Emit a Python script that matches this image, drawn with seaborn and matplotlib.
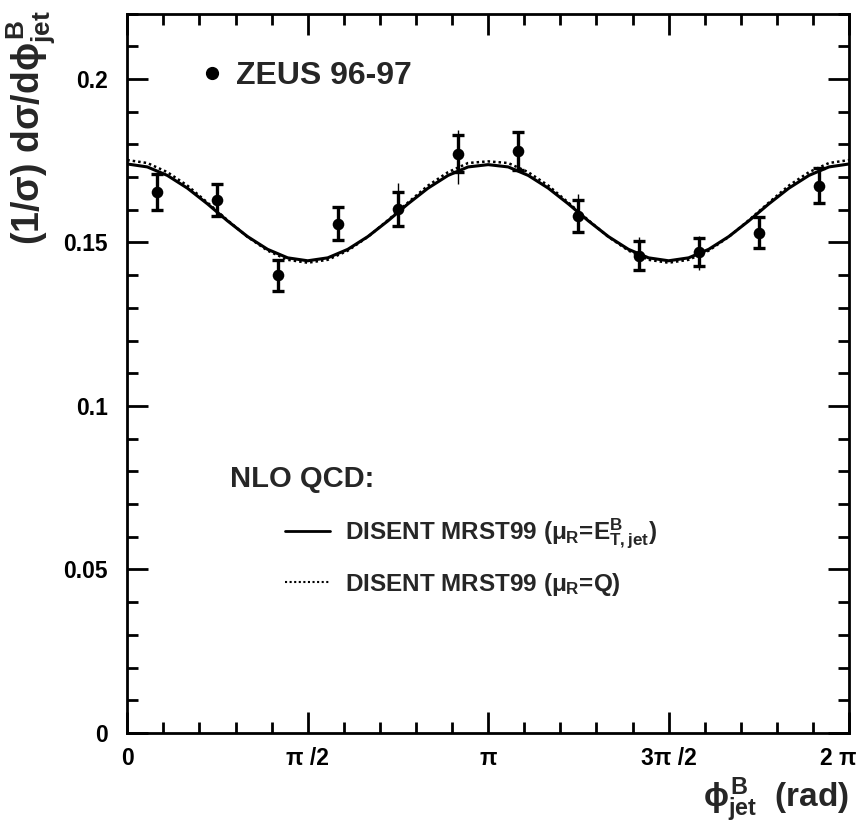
import numpy as np
import pandas as pd
import matplotlib
matplotlib.use("Agg")
import matplotlib.pyplot as plt
import matplotlib.transforms as mtransforms
from matplotlib.ticker import MultipleLocator, FixedLocator
import seaborn as sns

# ---------------- data ----------------
bin_center_deg = [15, 45, 75, 105, 135, 165, 195, 225, 255, 285, 315, 345]
zeus_value = [0.1655, 0.1630, 0.1399, 0.1557, 0.1602, 0.1772,
              0.1780, 0.1581, 0.1459, 0.1470, 0.1530, 0.1674]
zeus_stat = [0.0055, 0.0050, 0.0048, 0.0050, 0.0053, 0.0057,
             0.0058, 0.0050, 0.0044, 0.0043, 0.0048, 0.0053]
zeus_tot_up = [0.0055, 0.0050, 0.0048, 0.0050, 0.0079, 0.0071,
               0.0058, 0.0067, 0.0057, 0.0050, 0.0048, 0.0053]
zeus_tot_dn = [0.0055, 0.0050, 0.0048, 0.0050, 0.0053, 0.0093,
               0.0058, 0.0050, 0.0044, 0.0053, 0.0048, 0.0053]

curve_deg = [0, 10, 20, 30, 40, 50, 60, 70, 80, 90, 100, 110, 120, 130, 140,
             150, 160, 170, 180, 190, 200, 210, 220, 230, 240, 250, 260, 270,
             280, 290, 300, 310, 320, 330, 340, 350, 360]
nlo_et = [0.1740, 0.1731, 0.1705, 0.1666, 0.1618, 0.1566, 0.1518, 0.1479, 0.1453,
          0.1444, 0.1453, 0.1479, 0.1518, 0.1566, 0.1618, 0.1666, 0.1705, 0.1731,
          0.1738, 0.1731, 0.1705, 0.1666, 0.1618, 0.1566, 0.1518, 0.1479, 0.1453,
          0.1444, 0.1453, 0.1479, 0.1518, 0.1566, 0.1618, 0.1666, 0.1705, 0.1731,
          0.1740]
nlo_q = [0.1752, 0.1743, 0.1715, 0.1674, 0.1622, 0.1568, 0.1517, 0.1475, 0.1447,
         0.1438, 0.1447, 0.1475, 0.1517, 0.1568, 0.1622, 0.1674, 0.1715, 0.1743,
         0.1748, 0.1743, 0.1715, 0.1674, 0.1622, 0.1568, 0.1517, 0.1475, 0.1447,
         0.1438, 0.1447, 0.1475, 0.1517, 0.1568, 0.1622, 0.1674, 0.1715, 0.1743,
         0.1752]

xtick_labels = ["0", "π /2", "π", "3π /2", "2 π"]
ytick_labels = ["0", "0.05", "0.1", "0.15", "0.2"]

label_et = r"DISENT MRST99 ($\mu_{\mathrm{R}}$=E$^{\mathrm{B}}_{\mathrm{T,jet}}$)"
label_q = r"DISENT MRST99 ($\mu_{\mathrm{R}}$=Q)"

# ---------------- style ----------------
sns.set_theme(style="ticks")
plt.rcParams["font.family"] = ["Liberation Sans", "DejaVu Sans"]
plt.rcParams["font.weight"] = "bold"
plt.rcParams["mathtext.fontset"] = "custom"
plt.rcParams["mathtext.rm"] = "Liberation Sans:bold"
plt.rcParams["mathtext.it"] = "Liberation Sans:bold"
plt.rcParams["mathtext.bf"] = "Liberation Sans:bold"
plt.rcParams["mathtext.sf"] = "Liberation Sans:bold"

fig = plt.figure(figsize=(8.57, 8.27), dpi=100)
ax = fig.add_axes([0.1485, 0.1137, 0.9907 - 0.1485, 0.9836 - 0.1137])

pts = pd.DataFrame({
    "phi": np.deg2rad(bin_center_deg),
    "val": zeus_value,
    "stat": zeus_stat,
    "up": zeus_tot_up,
    "dn": zeus_tot_dn,
})
curves = pd.concat([
    pd.DataFrame({"phi": np.deg2rad(curve_deg), "val": nlo_et, "model": label_et}),
    pd.DataFrame({"phi": np.deg2rad(curve_deg), "val": nlo_q, "model": label_q}),
])

sns.lineplot(data=curves, x="phi", y="val", hue="model", style="model",
             palette=["black", "black"],
             dashes={label_et: "", label_q: (1, 1.2)},
             linewidth=2.0, ax=ax, legend=False, sort=False)
ax.lines[0].set_linewidth(2.2)
ax.lines[1].set_linewidth(1.8)

# total errors (thin, no caps)
ax.errorbar(pts["phi"], pts["val"], yerr=[pts["dn"], pts["up"]], fmt="none",
            ecolor="black", elinewidth=1.0, capsize=0, zorder=3)
# statistical errors (thick, capped)
ax.errorbar(pts["phi"], pts["val"], yerr=pts["stat"], fmt="none",
            ecolor="black", elinewidth=2.4, capsize=4.5, capthick=2.4, zorder=4)
sns.scatterplot(data=pts, x="phi", y="val", color="black", s=70,
                edgecolor="black", linewidth=0, ax=ax, zorder=5, legend=False)

ax.set_xlim(0, 2 * np.pi)
ax.set_ylim(0, 0.22)
ax.xaxis.set_major_locator(FixedLocator([0, np.pi / 2, np.pi, 1.5 * np.pi, 2 * np.pi]))
ax.set_xticklabels(xtick_labels)
ax.xaxis.set_minor_locator(MultipleLocator(np.pi / 10))
ax.yaxis.set_major_locator(FixedLocator([0, 0.05, 0.1, 0.15, 0.2]))
ax.set_yticklabels(ytick_labels)
ax.yaxis.set_minor_locator(MultipleLocator(0.01))
ax.tick_params(which="both", direction="in", top=True, right=True,
               width=2, colors="black", labelsize=16.5)
ax.tick_params(which="major", length=15)
ax.tick_params(which="minor", length=8)
ax.tick_params(axis="y", which="major", pad=14)
ax.tick_params(axis="x", which="major", pad=10)
for lab in ax.get_xticklabels() + ax.get_yticklabels():
    lab.set_fontweight("bold")
last = ax.get_xticklabels()[-1]
last.set_ha("right")
last.set_transform(last.get_transform() +
                   mtransforms.ScaledTranslation(7 / 100, 0, fig.dpi_scale_trans))
for sp in ax.spines.values():
    sp.set_linewidth(2)
    sp.set_color("black")
ax.set_xlabel("")
ax.set_ylabel("")
ax.grid(False)

# legends
h_pts = plt.Line2D([], [], marker="o", color="black", linestyle="none", markersize=8.5)
leg1 = ax.legend([h_pts], ["ZEUS 96-97"], loc="center left",
                 bbox_to_anchor=(0.100, 0.913), frameon=False,
                 fontsize=23, handlelength=0.8, handletextpad=0.35,
                 borderpad=0, borderaxespad=0)
ax.add_artist(leg1)

h_et = plt.Line2D([], [], color="black", linewidth=2.0)
h_q = plt.Line2D([], [], color="black", linewidth=1.5, linestyle=(0, (1, 1.2)))
ax.legend([h_et, h_q], [label_et, label_q], loc="upper left",
          bbox_to_anchor=(0.219, 0.300), frameon=False, fontsize=17.5,
          handlelength=1.85, handletextpad=0.6, labelspacing=0.8,
          borderpad=0, borderaxespad=0)

ax.text(0.142, 0.353, "NLO QCD:", transform=ax.transAxes, fontsize=21,
        fontweight="bold", ha="left", va="center")

fig.text(0.036, 1 - 10 / 827, r"(1/σ) dσ/d$\phi^{\mathrm{B}}_{\mathrm{jet}}$",
         rotation=90, ha="center", va="top", fontsize=27, fontweight="bold")
fig.text(849 / 857, 1 - 824 / 827, r"$\phi^{\mathrm{B}}_{\mathrm{jet}}$  (rad)",
         ha="right", va="bottom", fontsize=24, fontweight="bold")

fig.savefig("out.png", dpi=100)
